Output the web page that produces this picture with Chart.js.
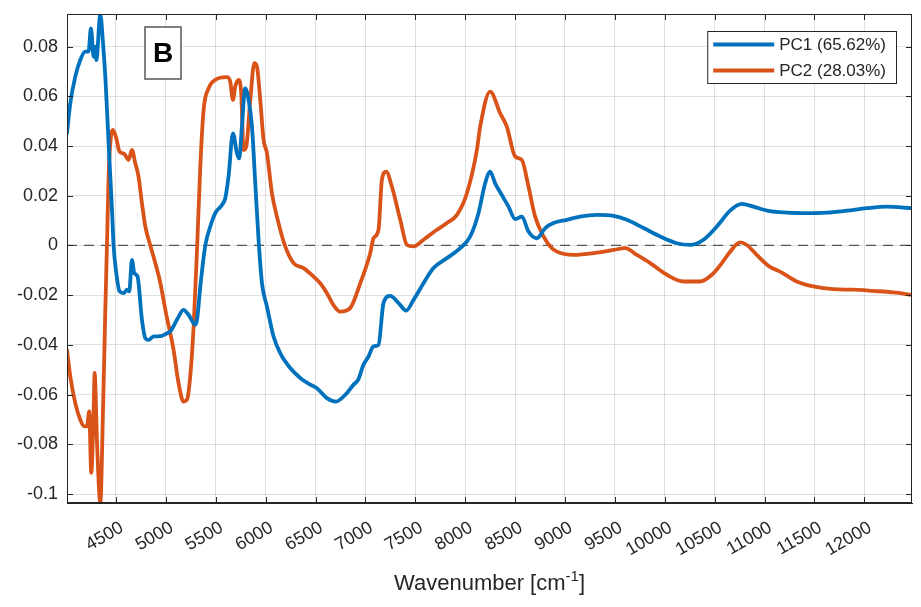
<!DOCTYPE html>
<html>
<head>
<meta charset="utf-8">
<script src="https://cdn.jsdelivr.net/npm/chart.js@4.4.1/dist/chart.umd.min.js"></script>
<style>
  body { margin: 0; background: #fff; }
  #wrap { width: 921px; height: 607px; }
</style>
</head>
<body>
<div id="wrap"><canvas id="pcaChart" width="921" height="607"></canvas></div>
<script>
// loadings (wavenumber in cm-1)
const pc1Wn = [4009, 4042, 4092, 4142, 4192, 4225, 4249, 4276, 4293, 4303, 4343, 4370, 4393, 4410, 4426, 4443, 4460, 4476, 4503, 4536,
  4576, 4610, 4633, 4660, 4683, 4716, 4760, 4794, 4827, 4877, 4944, 5011, 5044, 5111, 5177, 5227, 5295, 5312, 5345, 5395,
  5445, 5495, 5562, 5595, 5628, 5672, 5712, 5735, 5762, 5795, 5829, 5863, 5896, 5929, 5963, 6013, 6079, 6146, 6246, 6347,
  6447, 6514, 6614, 6704, 6800, 6880, 6928, 6980, 7031, 7081, 7131, 7181, 7248, 7332, 7409, 7482, 7582, 7682, 7817, 7950,
  8050, 8133, 8200, 8250, 8300, 8367, 8434, 8501, 8568, 8634, 8718, 8802, 8885, 9019, 9153, 9320, 9486, 9620, 9787, 9954,
  10121, 10254, 10388, 10522, 10655, 10772, 10889, 11039, 11223, 11390, 11624, 11825, 12025, 12225, 12478];
const pc1Val = [0.0451, 0.0572, 0.0679, 0.0746, 0.0780, 0.0780, 0.0873, 0.0759, 0.0800, 0.0746, 0.0930, 0.0813, 0.0679, 0.0545, 0.0411, 0.0277, 0.0143, 0.0000, -0.0111, -0.0185,
  -0.0192, -0.0178, -0.0185, -0.0058, -0.0111, -0.0125, -0.0299, -0.0373, -0.0380, -0.0366, -0.0365, -0.0353, -0.0346, -0.0299, -0.0259, -0.0279, -0.0319, -0.0300, -0.0165, 0.0000,
  0.0076, 0.0130, 0.0163, 0.0190, 0.0277, 0.0451, 0.0371, 0.0350, 0.0478, 0.0632, 0.0585, 0.0478, 0.0250, 0.0022, -0.0152, -0.0246, -0.0366, -0.0433, -0.0493, -0.0533,
  -0.0560, -0.0574, -0.0614, -0.0628, -0.0600, -0.0560, -0.0540, -0.0480, -0.0447, -0.0406, -0.0400, -0.0232, -0.0203, -0.0232, -0.0262, -0.0219, -0.0152, -0.0091, -0.0051, -0.0011,
  0.0036, 0.0130, 0.0250, 0.0297, 0.0250, 0.0203, 0.0156, 0.0106, 0.0116, 0.0056, 0.0029, 0.0070, 0.0090, 0.0103, 0.0116, 0.0123, 0.0119, 0.0103, 0.0070, 0.0036,
  0.0009, 0.0002, 0.0023, 0.0076, 0.0140, 0.0167, 0.0156, 0.0139, 0.0132, 0.0130, 0.0132, 0.0140, 0.0150, 0.0156, 0.0150];

const pc2Wn = [4009, 4042, 4092, 4142, 4182, 4209, 4232, 4252, 4276, 4286, 4310, 4343, 4370, 4393, 4410, 4426, 4443, 4470, 4503, 4536,
  4583, 4626, 4660, 4693, 4726, 4760, 4794, 4844, 4894, 4944, 5000, 5077, 5127, 5177, 5211, 5244, 5278, 5312, 5345, 5378,
  5428, 5495, 5612, 5645, 5672, 5695, 5729, 5755, 5779, 5806, 5846, 5886, 5913, 5946, 5979, 6013, 6063, 6113, 6196, 6280,
  6380, 6480, 6547, 6614, 6680, 6747, 6847, 6948, 7048, 7081, 7131, 7165, 7208, 7265, 7349, 7416, 7482, 7582, 7716, 7817,
  7917, 8017, 8117, 8150, 8250, 8350, 8417, 8501, 8568, 8634, 8701, 8785, 8852, 8919, 9085, 9320, 9486, 9603, 9720, 9854,
  10021, 10188, 10355, 10472, 10572, 10655, 10755, 10822, 10922, 11039, 11173, 11323, 11490, 11691, 11891, 12091, 12292, 12478];
const pc2Val = [-0.0420, -0.0527, -0.0634, -0.0701, -0.0728, -0.0728, -0.0668, -0.0915, -0.0661, -0.0513, -0.0795, -0.1035, -0.0661, -0.0259, 0.0009, 0.0277, 0.0411, 0.0465, 0.0431, 0.0377,
  0.0368, 0.0344, 0.0384, 0.0331, 0.0277, 0.0170, 0.0076, 0.0000, -0.0071, -0.0150, -0.0270, -0.0420, -0.0554, -0.0628, -0.0621, -0.0527, -0.0326, -0.0018, 0.0317, 0.0545,
  0.0632, 0.0666, 0.0677, 0.0659, 0.0585, 0.0639, 0.0666, 0.0612, 0.0384, 0.0398, 0.0585, 0.0733, 0.0719, 0.0585, 0.0425, 0.0371, 0.0210, 0.0116, -0.0004, -0.0071,
  -0.0091, -0.0125, -0.0152, -0.0192, -0.0240, -0.0266, -0.0252, -0.0152, -0.0031, 0.0029, 0.0063, 0.0264, 0.0297, 0.0237, 0.0103, 0.0002, -0.0004, 0.0023, 0.0063, 0.0090,
  0.0123, 0.0210, 0.0384, 0.0478, 0.0619, 0.0532, 0.0478, 0.0357, 0.0344, 0.0237, 0.0116, 0.0036, -0.0004, -0.0025, -0.0038, -0.0029, -0.0018, -0.0011, -0.0038, -0.0071,
  -0.0118, -0.0145, -0.0145, -0.0118, -0.0071, -0.0025, 0.0012, 0.0002, -0.0038, -0.0082, -0.0109, -0.0145, -0.0165, -0.0176, -0.0178, -0.0183, -0.0189, -0.0199];

const seriesNames = ['PC1 (65.62%)', 'PC2 (28.03%)'];
const seriesColors = ['#0072BD', '#D95319'];
const xTicks = [4500, 5000, 5500, 6000, 6500, 7000, 7500, 8000, 8500, 9000, 9500, 10000, 10500, 11000, 11500, 12000];
const yTicks = [-0.1, -0.08, -0.06, -0.04, -0.02, 0, 0.02, 0.04, 0.06, 0.08];
const xRange = [4009, 12478];
const yRange = [-0.1036, 0.0931];
const panelLabel = 'B';

const FONT = "'Liberation Sans', Arial, sans-serif";
const INK = '#262626';

const toPoints = (xs, ys) => xs.map((x, i) => ({ x: x, y: ys[i] }));

const decorations = {
  id: 'decorations',
  beforeDatasetsDraw(chart) {
    const { ctx, chartArea, scales } = chart;
    const y0 = scales.y.getPixelForValue(0);
    ctx.save();
    ctx.strokeStyle = '#555';
    ctx.lineWidth = 1.3;
    ctx.setLineDash([10, 7]);
    ctx.beginPath();
    ctx.moveTo(chartArea.left, y0);
    ctx.lineTo(chartArea.right, y0);
    ctx.stroke();
    ctx.restore();
  },
  afterDatasetsDraw(chart) {
    const { ctx, chartArea: a, scales } = chart;
    ctx.save();
    // axes box
    ctx.strokeStyle = INK;
    ctx.lineWidth = 1;
    ctx.strokeRect(a.left + 0.5, a.top + 0.5, a.right - a.left - 1, a.bottom - a.top - 1);
    // inward tick marks on all four sides
    ctx.beginPath();
    xTicks.forEach(v => {
      const px = Math.round(scales.x.getPixelForValue(v)) + 0.5;
      ctx.moveTo(px, a.bottom); ctx.lineTo(px, a.bottom - 6);
      ctx.moveTo(px, a.top); ctx.lineTo(px, a.top + 6);
    });
    yTicks.forEach(v => {
      const py = Math.round(scales.y.getPixelForValue(v)) + 0.5;
      ctx.moveTo(a.left, py); ctx.lineTo(a.left + 6, py);
      ctx.moveTo(a.right, py); ctx.lineTo(a.right - 6, py);
    });
    ctx.stroke();

    // panel label box
    const bx = a.left + 78, by = a.top + 13, bw = 36, bh = 52;
    ctx.fillStyle = '#fff';
    ctx.fillRect(bx, by, bw, bh);
    ctx.strokeStyle = '#555';
    ctx.lineWidth = 1.5;
    ctx.strokeRect(bx, by, bw, bh);
    ctx.fillStyle = '#000';
    ctx.font = 'bold 28px ' + FONT;
    ctx.textAlign = 'center';
    ctx.textBaseline = 'middle';
    ctx.fillText(panelLabel, bx + bw / 2, by + bh / 2 + 1);

    // legend
    ctx.font = '17px ' + FONT;
    const tw = Math.max(...seriesNames.map(s => ctx.measureText(s).width));
    const lw = 72 + tw + 10, lh = 52;
    const lx = a.right - 16 - lw, ly = a.top + 17;
    ctx.fillStyle = '#fff';
    ctx.fillRect(lx, ly, lw, lh);
    ctx.strokeStyle = INK;
    ctx.lineWidth = 1;
    ctx.strokeRect(lx + 0.5, ly + 0.5, lw, lh);
    ctx.textAlign = 'left';
    seriesNames.forEach((name, i) => {
      const ry = ly + 13.5 + i * 26;
      ctx.strokeStyle = seriesColors[i];
      ctx.lineWidth = 3.8;
      ctx.beginPath();
      ctx.moveTo(lx + 6, ry);
      ctx.lineTo(lx + 67, ry);
      ctx.stroke();
      ctx.fillStyle = INK;
      ctx.fillText(name, lx + 72, ry + 1);
    });

    // x axis title with superscript
    const main = 'Wavenumber [cm', sup = '-1', tail = ']';
    const mainFont = '22px ' + FONT, supFont = '15px ' + FONT;
    ctx.font = mainFont;
    const w1 = ctx.measureText(main).width, w3 = ctx.measureText(tail).width;
    ctx.font = supFont;
    const w2 = ctx.measureText(sup).width;
    let tx = (a.left + a.right) / 2 - (w1 + w2 + w3) / 2;
    const base = 590;
    ctx.textBaseline = 'alphabetic';
    ctx.fillStyle = INK;
    ctx.font = mainFont;
    ctx.fillText(main, tx, base);
    ctx.font = supFont;
    ctx.fillText(sup, tx + w1, base - 9);
    ctx.font = mainFont;
    ctx.fillText(tail, tx + w1 + w2, base);
    ctx.restore();
  }
};

new Chart(document.getElementById('pcaChart').getContext('2d'), {
  type: 'line',
  data: {
    datasets: [
      {
        label: seriesNames[0],
        data: toPoints(pc1Wn, pc1Val),
        borderColor: seriesColors[0],
        borderWidth: 3.8,
        pointRadius: 0,
        cubicInterpolationMode: 'monotone',
        borderJoinStyle: 'round',
        borderCapStyle: 'round'
      },
      {
        label: seriesNames[1],
        data: toPoints(pc2Wn, pc2Val),
        borderColor: seriesColors[1],
        borderWidth: 3.8,
        pointRadius: 0,
        cubicInterpolationMode: 'monotone',
        borderJoinStyle: 'round',
        borderCapStyle: 'round'
      }
    ]
  },
  options: {
    responsive: false,
    animation: false,
    events: [],
    layout: { padding: { left: 0, right: 9, top: 14, bottom: 0 } },
    plugins: { legend: { display: false }, tooltip: { enabled: false } },
    scales: {
      x: {
        type: 'linear',
        min: xRange[0],
        max: xRange[1],
        afterBuildTicks: s => { s.ticks = xTicks.map(v => ({ value: v })); },
        afterFit: s => { s.height = 104; s.paddingLeft = 0; s.paddingRight = 0; },
        grid: { color: 'rgba(0,0,0,0.12)', drawTicks: false },
        border: { display: true, color: INK, width: 1 },
        ticks: {
          minRotation: 30,
          maxRotation: 30,
          padding: 14,
          labelOffset: 6,
          color: INK,
          font: { family: FONT, size: 18 },
          callback: v => String(v)
        }
      },
      y: {
        type: 'linear',
        min: yRange[0],
        max: yRange[1],
        afterBuildTicks: s => { s.ticks = yTicks.map(v => ({ value: v })); },
        afterFit: s => { s.width = 67; s.paddingTop = 0; s.paddingBottom = 0; },
        grid: { color: 'rgba(0,0,0,0.12)', drawTicks: false },
        border: { display: true, color: INK, width: 1 },
        ticks: {
          padding: 9,
          color: INK,
          font: { family: FONT, size: 18 },
          callback: v => String(v)
        }
      }
    }
  },
  plugins: [decorations]
});
</script>
</body>
</html>
